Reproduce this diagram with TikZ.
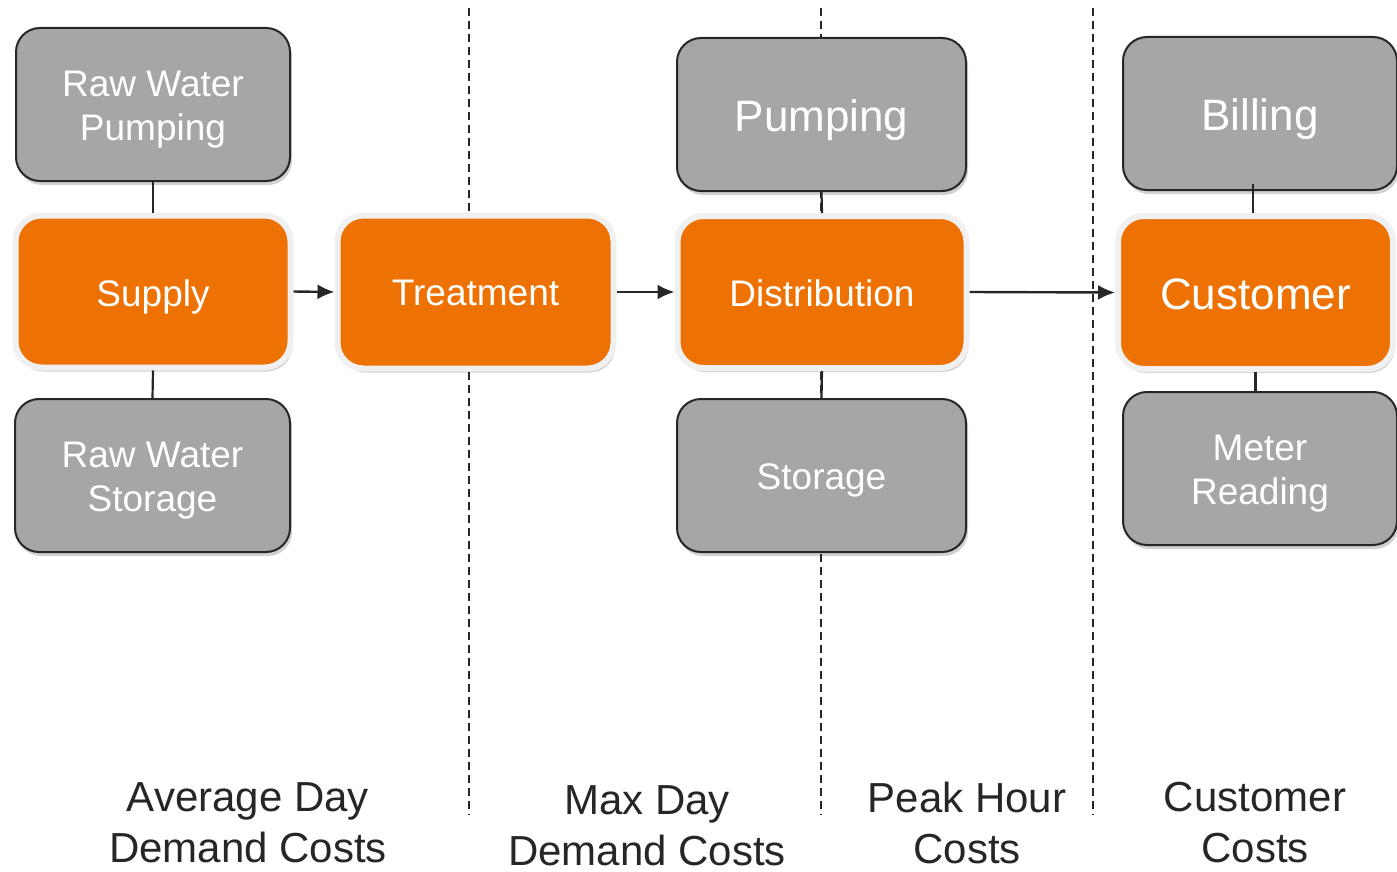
\documentclass[tikz,border=0pt]{standalone}
\usepackage{fontspec}
\setmainfont{Liberation Sans}
\usetikzlibrary{arrows.meta,shadows}
\definecolor{orng}{HTML}{EE7203}
\definecolor{gry}{HTML}{A6A6A6}
\definecolor{dk}{HTML}{262626}
\definecolor{rim}{HTML}{F0F0F0}
\tikzset{
  graybox/.style={rectangle, rounded corners=24pt, draw=dk, line width=2pt, fill=gry,
    inner sep=0pt,
    drop shadow={shadow xshift=2pt, shadow yshift=-4pt, opacity=0.18, fill=black}},
  orangebox/.style={rectangle, rounded corners=26pt, draw=rim, line width=6pt, fill=orng,
    inner sep=0pt,
    drop shadow={shadow xshift=2pt, shadow yshift=-4pt, opacity=0.18, fill=black}},
  boxtxt/.style={text=white, align=center, inner sep=0pt, yshift=-5pt},
  midtxt/.style={boxtxt, font=\fontsize{37}{44}\selectfont},
  bigtxt/.style={boxtxt, font=\fontsize{44}{50}\selectfont, yshift=-1pt},
  costlbl/.style={text=dk, align=center, inner sep=0pt, font=\fontsize{42}{51}\selectfont},
  divider/.style={draw=dk, line width=1.8pt, dash pattern=on 8pt off 5pt},
  link/.style={draw=dk, line width=2.2pt},
  flow/.style={draw=dk, line width=2.4pt, -{Latex[length=17pt,width=15pt]}}
}
\begin{document}
\begin{tikzpicture}[x=1pt,y=-1pt]
\useasboundingbox (0,0) rectangle (1397,872);
% dividers
\coordinate (d1t) at (469,8);  \coordinate (d1b) at (469,815);
\coordinate (d2t) at (821,8);  \coordinate (d2b) at (821,815);
\coordinate (d3t) at (1093,8); \coordinate (d3b) at (1093,815);
\draw[divider] (d1t) -- (d1b);
\draw[divider] (d2t) -- (d2b);
\draw[divider] (d3t) -- (d3b);
% boxes
\node[graybox, minimum width=274pt, minimum height=153pt,
  label={[midtxt]center:Raw Water\\Pumping}] (rwp) at (153,104.5) {};
\node[orangebox, minimum width=275pt, minimum height=152pt,
  label={[midtxt]center:Supply}] (sup) at (153,291.5) {};
\node[graybox, minimum width=275pt, minimum height=153pt,
  label={[midtxt]center:Raw Water\\Storage}] (rws) at (152.5,475.5) {};
\node[orangebox, minimum width=276pt, minimum height=153pt,
  label={[midtxt]center:Treatment\vphantom{y}}] (tre) at (475.5,292) {};
\node[graybox, minimum width=289pt, minimum height=153pt,
  label={[bigtxt]center:Pumping}] (pum) at (821.5,114.5) {};
\node[orangebox, minimum width=289pt, minimum height=152pt,
  label={[midtxt]center:Distribution\vphantom{y}}] (dis) at (822,292) {};
\node[graybox, minimum width=289pt, minimum height=153pt,
  label={[midtxt]center:Storage}] (sto) at (821.5,475.5) {};
\node[graybox, minimum width=274pt, minimum height=153pt,
  label={[bigtxt]center:Billing}] (bil) at (1260,113.5) {};
\node[orangebox, minimum width=275pt, minimum height=153pt,
  label={[bigtxt]center:Customer\vphantom{g}}] (cus) at (1255.5,292.5) {};
\node[graybox, minimum width=274pt, minimum height=153pt,
  label={[midtxt]center:Meter\\Reading}] (met) at (1260,468.5) {};
% links
\draw[link] (rwp.south) -- (sup.north);
\draw[link] (sup.south) -- (rws.north);
\draw[link] (pum.south) -- (dis.north);
\draw[link] (dis.south) -- (sto.north);
\coordinate (bt) at (1253,184);
\draw[link] (bt) -- (bt |- cus.north);
\draw[link] (cus.south) -- (cus.south |- met.north);
\draw[flow] (sup.east) -- (tre.west);
\draw[flow] (tre.east) -- (dis.west);
\draw[flow] (dis.east) -- (cus.west);
% labels
\node[costlbl] (l1) at (248,823) {Average Day\\Demand Costs};
\node[costlbl] (l2) at (647,826) {Max Day\\Demand Costs};
\node[costlbl] (l3) at (967,823) {Peak Hour\\Costs};
\node[costlbl] (l4) at (1255,823) {Customer\\Costs};
\end{tikzpicture}
\end{document}
